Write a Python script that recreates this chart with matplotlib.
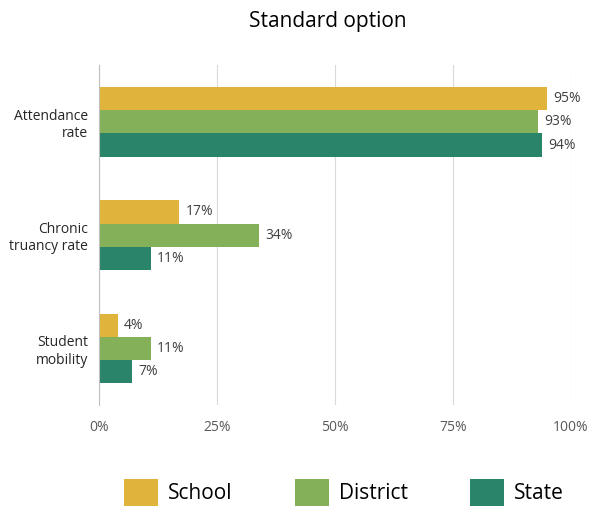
import numpy as np
import matplotlib.pyplot as plt
from matplotlib.patches import Patch

plt.rcParams['font.family'] = ['Open Sans', 'DejaVu Sans']

categories = ["Attendance\nrate", "Chronic\ntruancy rate", "Student\nmobility"]
series = ["School", "District", "State"]
school = [95, 17, 4]
district = [93, 34, 11]
state = [94, 11, 7]
colors = ["#E0B43A", "#84B05A", "#2A8469"]

fig = plt.figure(figsize=(6.04, 5.22), dpi=100)
ax = fig.add_axes([0.164, 0.224, 0.781, 0.651])

y = np.arange(len(categories))
h = 0.205
for k, (vals, c) in enumerate(zip([school, district, state], colors)):
    pos = y + (k - 1) * h
    ax.barh(pos, vals, height=h, color=c, zorder=3)
    for p, v in zip(pos, vals):
        ax.text(v + 1.3, p, f"{v}%", va="center", ha="left", fontsize=10, color="#404040")

ax.set_ylim(2.5, -0.5)
ax.set_xlim(0, 100)
ax.set_xticks([0, 25, 50, 75, 100])
ax.set_xticklabels(["0%", "25%", "50%", "75%", "100%"], fontsize=10, color="#595959")
ax.set_yticks(y)
ax.set_yticklabels(categories, fontsize=10, color="#262626", ha="right", multialignment="right")
ax.tick_params(length=0, pad=8)
ax.tick_params(axis="x", pad=11)
ax.grid(axis="x", color="#D9D9D9", linewidth=0.8, zorder=0)
for s in ["top", "right", "bottom"]:
    ax.spines[s].set_visible(False)
ax.spines["left"].set_color("#BFBFBF")
ax.spines["left"].set_zorder(4)

fig.text(0.543, 0.958, "Standard option", ha="center", va="center", fontsize=15, color="black")

handles = [Patch(facecolor=c, edgecolor="none") for c in colors]
fig.legend(handles, series, loc="center", bbox_to_anchor=(0.57, 0.057), ncol=3, frameon=False,
           fontsize=15, handlelength=1.6, handleheight=1.6, columnspacing=3.0, handletextpad=0.5)

fig.savefig("out.png", dpi=100)
